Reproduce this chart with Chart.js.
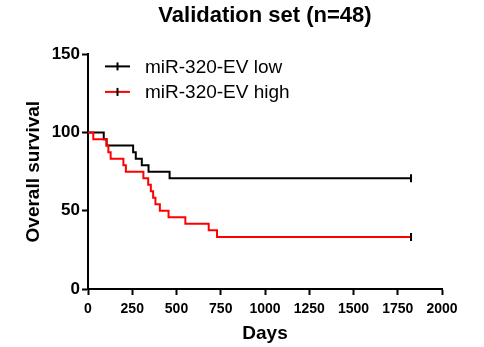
<!DOCTYPE html>
<html>
<head>
<meta charset="utf-8">
<title>Validation set (n=48)</title>
<script src="https://cdn.jsdelivr.net/npm/chart.js@4.4.1/dist/chart.umd.min.js"></script>
<style>
    html, body { margin: 0; padding: 0; background: #fff; }
</style>
</head>
<body>
<canvas id="survivalChart" width="484" height="347"></canvas>
<script>
// Kaplan-Meier steps: day of each event and survival (%) after it
const lowLabel = 'miR-320-EV low';
const lowDays = [0, 89, 105, 255, 270, 304, 342, 461, 1825];
const lowSurvival = [100, 95.8, 91.7, 87.5, 83.3, 79.2, 75, 70.8, 70.8];

const highLabel = 'miR-320-EV high';
const highDays = [0, 30, 105, 115, 128, 200, 214, 313, 340, 355, 368, 381, 406, 455, 550, 682, 729, 1825];
const highSurvival = [100, 95.8, 91.7, 87.5, 83.3, 79.2, 75, 70.8, 66.7, 62.5, 58.3, 54.2, 50, 45.8, 41.7, 37.5, 33.3, 33.3];

const xTickValues = [0, 250, 500, 750, 1000, 1250, 1500, 1750, 2000];
const yTickValues = [0, 50, 100, 150];

const toPoints = (days, surv) => days.map((d, i) => ({ x: d, y: surv[i] }));

// censor tick only on the last point of each curve
const censorRadius = ctx => ctx.dataIndex === ctx.dataset.data.length - 1 ? 4 : 0;

// legend drawn inside the plot: short line with a tick, then the label
const kmLegend = {
    id: 'kmLegend',
    afterDraw(chart) {
        const { ctx, chartArea } = chart;
        const x0 = chartArea.left + 17;
        ctx.save();
        chart.data.datasets.forEach((ds, i) => {
            const y = chartArea.top + 12 + i * 25.5;
            ctx.lineWidth = 2;
            ctx.strokeStyle = ds.borderColor;
            ctx.beginPath();
            ctx.moveTo(x0, y);
            ctx.lineTo(x0 + 25, y);
            ctx.stroke();
            ctx.strokeStyle = '#000';
            ctx.beginPath();
            ctx.moveTo(x0 + 12.5, y - 4);
            ctx.lineTo(x0 + 12.5, y + 4);
            ctx.stroke();
            ctx.fillStyle = '#000';
            ctx.font = '19px "Liberation Sans", Arial, sans-serif';
            ctx.textBaseline = 'middle';
            ctx.fillText(ds.label, x0 + 40, y + 1);
        });
        ctx.restore();
    }
};

document.addEventListener('DOMContentLoaded', () => {
    new Chart(document.getElementById('survivalChart'), {
        type: 'line',
        data: {
            datasets: [
                {
                    label: lowLabel,
                    data: toPoints(lowDays, lowSurvival),
                    borderColor: '#000000',
                    borderWidth: 2,
                    stepped: true,
                    fill: false,
                    order: 1,
                    pointStyle: 'line',
                    rotation: 90,
                    pointRadius: censorRadius,
                    pointBorderColor: '#000000',
                    pointBorderWidth: 2
                },
                {
                    label: highLabel,
                    data: toPoints(highDays, highSurvival),
                    borderColor: '#ff0000',
                    borderWidth: 2,
                    stepped: true,
                    fill: false,
                    order: 0,
                    pointStyle: 'line',
                    rotation: 90,
                    pointRadius: censorRadius,
                    pointBorderColor: '#000000',
                    pointBorderWidth: 2
                }
            ]
        },
        options: {
            responsive: false,
            animation: false,
            layout: { padding: { top: 0, right: 42, bottom: 0, left: 0 } },
            plugins: {
                legend: { display: false },
                tooltip: { enabled: false },
                title: {
                    display: true,
                    text: 'Validation set (n=48)',
                    fullSize: false,
                    color: '#000',
                    font: { family: '"Liberation Sans", Arial, sans-serif', size: 22, weight: 'bold' },
                    padding: { top: 3, bottom: 25 }
                }
            },
            scales: {
                x: {
                    type: 'linear',
                    min: 0,
                    max: 2000,
                    afterBuildTicks: axis => { axis.ticks = xTickValues.map(v => ({ value: v })); },
                    afterFit: axis => { axis.height = 58; },
                    grid: { display: true, drawOnChartArea: false, drawTicks: true, tickLength: 6, tickWidth: 2, tickColor: '#000' },
                    border: { display: true, color: '#000', width: 2 },
                    ticks: {
                        autoSkip: false,
                        maxRotation: 0,
                        color: '#000',
                        padding: 6,
                        callback: v => String(v),
                        font: { family: '"Liberation Sans", Arial, sans-serif', size: 14, weight: 'bold' }
                    },
                    title: {
                        display: true,
                        text: 'Days',
                        color: '#000',
                        font: { family: '"Liberation Sans", Arial, sans-serif', size: 19, weight: 'bold' },
                        padding: { top: 0, bottom: 2 }
                    }
                },
                y: {
                    type: 'linear',
                    min: 0,
                    max: 150,
                    afterBuildTicks: axis => { axis.ticks = yTickValues.map(v => ({ value: v })); },
                    afterFit: axis => { axis.width = 88; },
                    grid: { display: true, drawOnChartArea: false, drawTicks: true, tickLength: 6, tickWidth: 2, tickColor: '#000' },
                    border: { display: true, color: '#000', width: 2 },
                    ticks: {
                        color: '#000',
                        padding: 2,
                        callback: v => String(v),
                        font: { family: '"Liberation Sans", Arial, sans-serif', size: 17, weight: 'bold' }
                    },
                    title: {
                        display: true,
                        text: 'Overall survival',
                        color: '#000',
                        font: { family: '"Liberation Sans", Arial, sans-serif', size: 19, weight: 'bold' },
                        padding: { top: 22, bottom: 0 }
                    }
                }
            }
        },
        plugins: [kmLegend]
    });
});
</script>
</body>
</html>
